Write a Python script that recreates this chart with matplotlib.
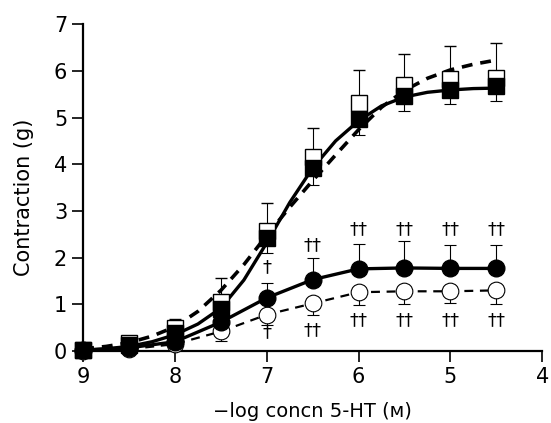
import matplotlib
matplotlib.use("Agg")
import matplotlib.pyplot as plt

plt.rcParams['font.family'] = ['DejaVu Sans']

# -log concentration of 5-HT
conc = [9, 8.5, 8, 7.5, 7, 6.5, 6, 5.5, 5, 4.5]

# open squares (upper s.e.m. shown)
osq_mean = [0.03, 0.17, 0.5, 1.05, 2.58, 4.16, 5.32, 5.69, 5.82, 5.85]
osq_top = [0.05, 0.27, 0.68, 1.56, 3.17, 4.78, 6.02, 6.36, 6.53, 6.59]

# filled squares (lower s.e.m. shown)
fsq_mean = [0.02, 0.12, 0.38, 0.9, 2.42, 3.92, 4.97, 5.47, 5.59, 5.68]
fsq_bot = [0.0, 0.08, 0.3, 0.7, 2.1, 3.55, 4.63, 5.14, 5.29, 5.35]

# filled circles (upper s.e.m. shown)
fci_mean = [0.02, 0.07, 0.2, 0.62, 1.14, 1.53, 1.76, 1.78, 1.77, 1.77]
fci_top = [0.02, 0.07, 0.25, 0.7, 1.45, 2.0, 2.3, 2.35, 2.28, 2.28]

# open circles (lower s.e.m. shown)
oci_mean = [0.0, 0.04, 0.15, 0.42, 0.78, 1.02, 1.26, 1.28, 1.28, 1.3]
oci_bot = [0.0, 0.0, 0.1, 0.22, 0.56, 0.77, 0.98, 1.0, 1.02, 1.0]

# fitted curves
fit_x = [9, 8.75, 8.5, 8.25, 8, 7.75, 7.5, 7.25, 7, 6.75, 6.5, 6.25, 6,
         5.75, 5.5, 5.25, 5, 4.75, 4.5]
fit_solid = [0.02, 0.05, 0.1, 0.2, 0.35, 0.58, 0.92, 1.52, 2.32, 3.18, 3.92,
             4.5, 4.93, 5.25, 5.44, 5.54, 5.59, 5.62, 5.63]
fit_dashed = [0.05, 0.1, 0.18, 0.32, 0.52, 0.85, 1.3, 1.85, 2.48, 3.08, 3.65,
              4.2, 4.74, 5.22, 5.58, 5.84, 6.02, 6.14, 6.23]

# significance marks
dag_x = [7, 6.5, 6, 5.5, 5, 4.5]
dag_lbl = ['†', '††', '††', '††', '††', '††']
dag_up = [1.8, 2.27, 2.62, 2.62, 2.62, 2.62]
dag_dn = [0.4, 0.45, 0.66, 0.66, 0.66, 0.66]

fig = plt.figure(figsize=(5.51, 4.23), dpi=100)
ax = fig.add_axes([0.151, 0.170, 0.833, 0.773])

# fitted curves
ax.plot(fit_x, fit_dashed, color='black', lw=2.6, ls=(0, (3, 2.2)), zorder=2)
ax.plot(fit_x, fit_solid, color='black', lw=2.4, zorder=2)

# open squares
up = [t - m for t, m in zip(osq_top, osq_mean)]
ax.errorbar(conc, osq_mean, yerr=[[0] * len(up), up], fmt='s', ms=12,
            mfc='white', mec='black', mew=1.0, ecolor='black', elinewidth=0.8,
            capsize=4, capthick=0.8, zorder=3, clip_on=False)

# filled squares
dn = [m - b for m, b in zip(fsq_mean, fsq_bot)]
ax.errorbar(conc, fsq_mean, yerr=[dn, [0] * len(dn)], fmt='s', ms=12,
            mfc='black', mec='black', ecolor='black', elinewidth=0.8,
            capsize=4, capthick=0.8, zorder=4, clip_on=False)

# open circles
ax.plot(conc, oci_mean, color='black', lw=1.6, ls=(0, (4, 3)), zorder=2)
dn = [m - b for m, b in zip(oci_mean, oci_bot)]
ax.errorbar(conc, oci_mean, yerr=[dn, [0] * len(dn)], fmt='o', ms=12,
            mfc='white', mec='black', mew=0.8, ecolor='black', elinewidth=0.8,
            capsize=4, capthick=0.8, zorder=3, clip_on=False)

# filled circles
ax.plot(conc, fci_mean, color='black', lw=2.4, zorder=2)
up = [t - m for t, m in zip(fci_top, fci_mean)]
ax.errorbar(conc, fci_mean, yerr=[[0] * len(up), up], fmt='o', ms=12,
            mfc='black', mec='black', ecolor='black', elinewidth=0.8,
            capsize=4, capthick=0.8, zorder=4, clip_on=False)

for x, lbl, yu, yd in zip(dag_x, dag_lbl, dag_up, dag_dn):
    ax.text(x, yu, lbl, ha='center', va='center', fontsize=13)
    ax.text(x, yd, lbl, ha='center', va='center', fontsize=13)

ax.set_xlim(9, 4)
ax.set_ylim(0, 7)
ax.set_xticks([9, 8, 7, 6, 5, 4])
ax.set_yticks(range(0, 8))
for s in ['top', 'right']:
    ax.spines[s].set_visible(False)
for s in ['left', 'bottom']:
    ax.spines[s].set_linewidth(1.6)
ax.tick_params(direction='out', length=8, width=1.2, labelsize=15)
ax.set_ylabel('Contraction (g)', fontsize=15)
ax.set_xlabel('\u2212log concn 5-HT (\u1d0d)', fontsize=14)
ax.yaxis.set_label_coords(-0.108, 0.47)
ax.xaxis.set_label_coords(0.5, -0.156)

fig.savefig('out.png', dpi=100)
